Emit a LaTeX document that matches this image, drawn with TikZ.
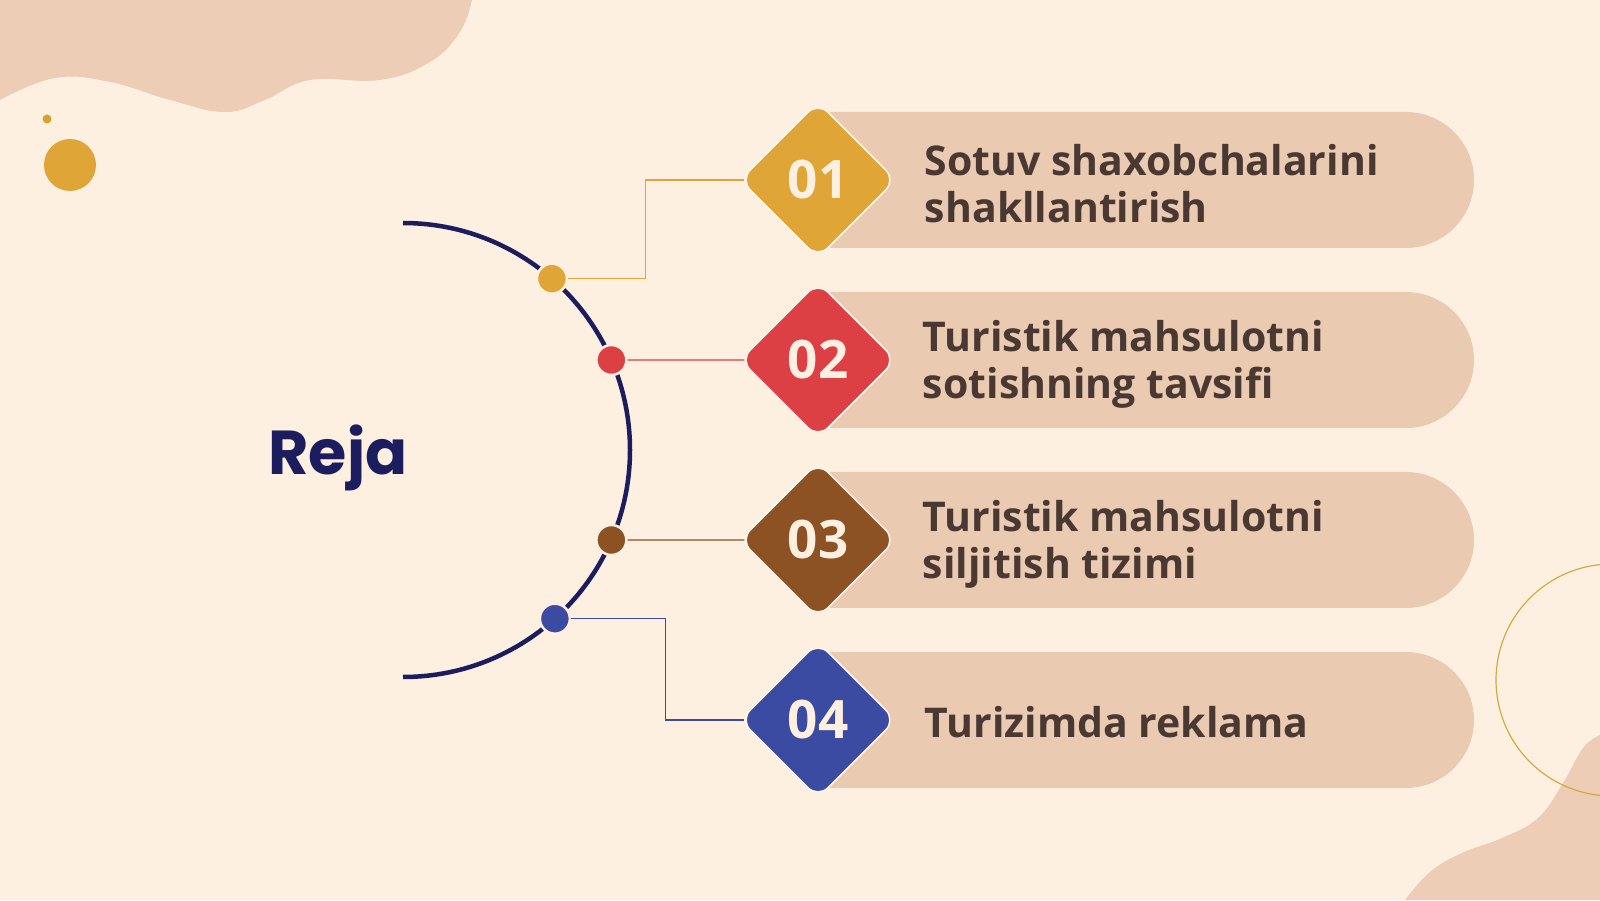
\documentclass[tikz,border=0pt]{standalone}
\usepackage{fontspec}
\setmainfont{Open Sans}
\newfontfamily\rejafont{Poppins}
\usetikzlibrary{shapes.geometric,positioning,calc}
\definecolor{cream}{HTML}{FDF0E1}
\definecolor{blobpink}{HTML}{EDCDB6}
\definecolor{pillpink}{HTML}{EBCAB2}
\definecolor{navy}{HTML}{1C1D5E}
\definecolor{textbrown}{HTML}{4A3833}
\definecolor{ochre}{HTML}{E0A537}
\definecolor{rosered}{HTML}{DC4045}
\definecolor{rust}{HTML}{8C5223}
\definecolor{royal}{HTML}{3A4BA1}
\definecolor{ringgold}{HTML}{D6AA3E}
\tikzstyle{diam} = [diamond, minimum width=156pt, minimum height=156pt, inner sep=0pt, rounded corners=14pt, draw=cream!60!white, line width=1.5pt, text=cream, font=\bfseries\fontsize{53}{53}\selectfont]
\tikzstyle{itemtext} = [inner sep=0pt, align=left, text=textbrown, font=\bfseries\fontsize{41}{47}\selectfont]
\tikzstyle{bulb} = [circle, minimum size=30pt, inner sep=0pt, draw=cream, line width=2.5pt]
\tikzstyle{wire} = [line width=1.3pt]

\begin{document}
\begin{tikzpicture}[x=1pt, y=1pt, node distance=180pt]
\useasboundingbox (0,0) rectangle (1600,900);
\fill[cream] (0,0) rectangle (1600,900);
% background blobs
\fill[blobpink] plot[smooth, tension=0.7] coordinates {(0,800) (55,822) (110,818) (170,800) (225,788) (265,800) (310,820) (380,820) (430,838) (460,868) (472,900)} -- (0,900) -- cycle;
\fill[blobpink] plot[smooth, tension=0.7] coordinates {(1405,0) (1430,28) (1462,47) (1502,62) (1538,82) (1563,117) (1583,152) (1600,165)} -- (1600,0) -- cycle;
\draw[ringgold, line width=1.2pt] (1612,220) circle (116);
\fill[ochre!90!olive] (47,781) circle (4.5);
\fill[ochre] (70,735) circle (26);
% bars
\foreach \y in {720,540,360,180}
  \fill[pillpink] (830,\y-68) -- (1406,\y-68) arc (-90:90:68) -- (830,\y+68) -- cycle;
% half ring
\coordinate (hub) at (403,450);
\draw[navy, line width=4.5pt] ($(hub)+(0,227)$) arc (90:-90:227);
\node (b1) [bulb, fill=ochre] at ($(hub)+(49:227)$) {};
\node (b2) [bulb, fill=rosered] at ($(hub)+(23.36:227)$) {};
\node (b3) [bulb, fill=rust] at ($(hub)+(-23.36:227)$) {};
\node (b4) [bulb, fill=royal] at ($(hub)+(-48:227)$) {};
% diamonds
\node (d1) [diam, fill=ochre] at (818,720) {01};
\node (d2) [diam, fill=rosered, below of=d1] {02};
\node (d3) [diam, fill=rust, below of=d2] {03};
\node (d4) [diam, fill=royal, below of=d3] {04};
% connectors
\draw[wire, ochre] (b1) -| ($(b1)!0.5!(d1.west)$) |- ($(d1.west)+(5,0)$);
\draw[wire, rosered] (b2) -- ($(d2.west)+(5,0)$);
\draw[wire, rust] (b3) -- ($(d3.west)+(5,0)$);
\draw[wire, royal] (b4) -| ($(b4)!0.6!(d4.west)$) |- ($(d4.west)+(5,0)$);
% texts
\node (t1) [itemtext, right=28pt of d1, yshift=-4pt] {Sotuv shaxobchalarini\\shakllantirish};
\node (t2) [itemtext, right=26pt of d2, yshift=-4pt] {Turistik mahsulotni\\sotishning tavsifi};
\node (t3) [itemtext, right=26pt of d3, yshift=-4pt] {Turistik mahsulotni\\siljitish tizimi};
\node (t4) [itemtext, right=28pt of d4, yshift=-2pt] {Turizimda reklama};
\node (reja) [anchor=base west, text=navy, font=\rejafont\bfseries\fontsize{62}{62}\selectfont] at (265,425) {Reja};
\end{tikzpicture}
\end{document}
